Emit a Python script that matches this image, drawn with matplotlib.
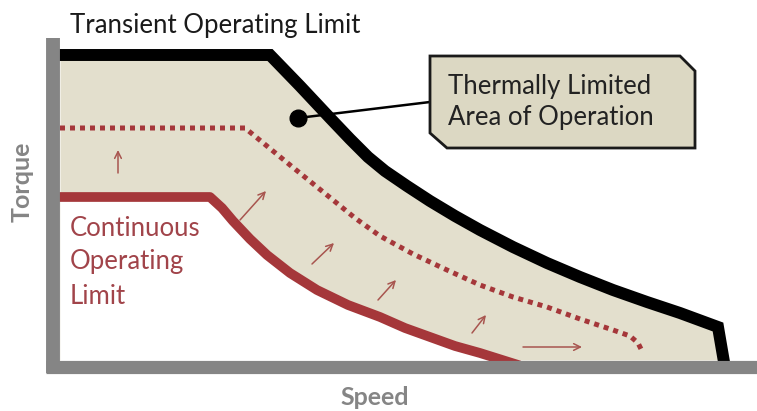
import matplotlib
matplotlib.use('Agg')
import matplotlib.pyplot as plt
from matplotlib.patches import Polygon

plt.rcParams['font.family'] = ['Lato', 'DejaVu Sans']

# speed / torque in arbitrary units (origin at the axes corner)
transient_speed = [0, 210, 240, 270, 290, 308, 325, 347, 370, 395, 420, 453,
                   487, 520, 553, 587, 620, 658, 664]
transient_torque = [305, 305, 274, 242, 221, 203, 189, 174, 159, 144, 130, 113,
                    97, 83, 70, 58, 47, 33, -2]

continuous_speed = [0, 150, 162, 173, 190, 207, 230, 257, 288, 320, 345, 370,
                    395, 420, 455]
continuous_torque = [163, 163, 152, 139, 121, 105, 87, 70, 55, 43, 32, 23,
                     14, 7, -4]

thermal_speed = [0, 185, 230, 273, 295, 320, 353, 387, 420, 453, 487, 520,
                 553, 570, 578, 583]
thermal_torque = [232, 232, 195, 160, 142, 124, 106, 90, 75, 63, 53, 41,
                  30, 24, 17, 7]

# little arrows showing the limit moving up: (x0, y0, x1, y1)
arrows = [(58, 187, 58, 210), (180, 140, 206, 169), (252, 96, 274, 117),
          (318, 60, 336, 80), (412, 27, 426, 45), (463, 13, 522, 13)]

box_speed = [370, 620, 635, 635, 387, 370]
box_torque = [304, 304, 289, 212, 212, 227]

BEIGE = '#e3dfcd'
RED = '#a5373a'
TEXT_RED = '#a1444a'
ARROW = '#a8554f'
GRAY = '#858585'

fig = plt.figure(figsize=(7.57, 4.11), dpi=100)
ax = fig.add_axes([0, 0, 1, 1])
ax.set_xlim(-60, 697)
ax.set_ylim(-51, 360)
ax.axis('off')

ax.fill_between(transient_speed, transient_torque, 0, color=BEIGE, lw=0, zorder=1)
ax.fill_between(continuous_speed, continuous_torque, -10, color='white', lw=0, zorder=2)

ax.plot(transient_speed, transient_torque, color='black', lw=8.6,
        solid_joinstyle='miter', zorder=4)
ax.plot(continuous_speed, continuous_torque, color=RED, lw=7,
        solid_joinstyle='round', zorder=4)
ax.plot(thermal_speed, thermal_torque, color=RED, lw=3.6,
        linestyle=(0, (1, 1)), dash_capstyle='butt', zorder=4)

for x0, y0, x1, y1 in arrows:
    ax.annotate('', xy=(x1, y1), xytext=(x0, y0),
                arrowprops=dict(arrowstyle='->', color=ARROW, lw=1.1,
                                mutation_scale=12, shrinkA=0, shrinkB=0),
                zorder=5)

# axes bars
ax.plot([-7, -7], [322, -13], color=GRAY, lw=10, solid_capstyle='butt', zorder=6)
ax.plot([-14, 697], [-6.5, -6.5], color=GRAY, lw=9.5, solid_capstyle='butt', zorder=6)

# callout
ax.plot([238, 370], [242, 258], color='black', lw=1.8, zorder=5)
ax.plot(238, 242, 'o', color='black', ms=12, zorder=7)
box = Polygon(list(zip(box_speed, box_torque)), closed=True, facecolor='#dcd8c3',
              edgecolor='#1a1a1a', lw=2, zorder=7)
ax.add_patch(box)
ax.text(388, 258, 'Thermally Limited\nArea of Operation', fontsize=18.5,
        color='#222222', va='center', ha='left', linespacing=1.3, zorder=8)

ax.text(10, 335, 'Transient Operating Limit', fontsize=18.5, color='#1a1a1a',
        va='center', ha='left')
ax.text(10, 98, 'Continuous\nOperating\nLimit', fontsize=18.5, color=TEXT_RED,
        va='center', ha='left', linespacing=1.45)
ax.text(-38, 178, 'Torque', fontsize=18, color=GRAY, fontweight='bold',
        rotation=90, va='center', ha='center')
ax.text(315, -37, 'Speed', fontsize=18, color=GRAY, fontweight='bold',
        va='center', ha='center')

fig.savefig('out.png', dpi=100, facecolor='white')
